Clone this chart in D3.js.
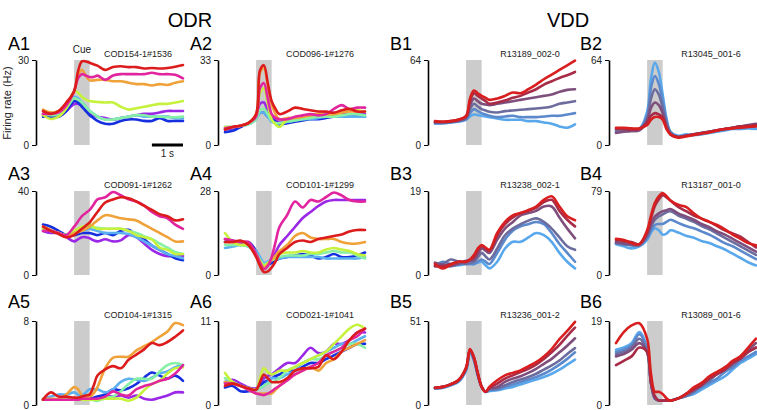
<!DOCTYPE html>
<html><head><meta charset="utf-8">
<script src="https://cdn.jsdelivr.net/npm/d3@7"></script>
<style>body{margin:0;background:#fff;} text{font-family:"Liberation Sans",Arial,sans-serif;}</style>
</head><body>
<script>
// time points (s, relative to cue onset)
const times = [-1,-0.75,-0.5,-0.25,0,0.125,0.25,0.375,0.5,0.625,0.75,1,1.25,1.5,1.75,2,2.25,2.5,2.75,3,3.25,3.5];
const odrColors = ["#dc1c1c","#e0259e","#f0a23a","#c6f23e","#86f0a4","#5cb0f2","#1630e0","#9a28e6"];
const vddColors = ["#5aa8ec","#5c88cc","#6c6c9e","#7e4e7c","#a82c48","#d81e1e"];
const panelNames = ["A1","A2","A3","A4","A5","A6","B1","B2","B3","B4","B5","B6"];
const unitLabels = ["COD154-1#1536","COD096-1#1276","COD091-1#1262","COD101-1#1299","COD104-1#1315","COD021-1#1041",
  "R13189_002-0","R13045_001-6","R13238_002-1","R13187_001-0","R13236_001-2","R13089_001-6"];
const yMax = [30,33,40,28,8,11,64,64,19,79,51,19];

// ODR series order: red, magenta, orange, yellow-green, aquamarine, light blue, blue, purple
const A1 = [
[12,11,12,15,19,26,29.5,29.5,29,28.5,28,26.5,27.5,27.8,27.5,27.5,27,27.2,27,27.2,27.6,28.2],
[11,11,11.5,14,19,23.5,25,24.5,24,24,24.5,23,24.5,25,25,25,25,25.5,25,25,24.8,23.5],
[12.5,11.5,12,14.5,19,24.5,26.5,24.5,22.8,22.8,23,23,22.5,22.5,22,21.5,21.5,21,21.5,21.2,22,22.5],
[10.5,9.2,10,13,19,18.5,17,16,15.5,15.3,15.2,15,15,13.5,12.5,13,13.5,14,14.5,14.5,15,15.5],
[11,10.5,11,13,16.5,16,15,13.5,12,11,10,9,9,9.5,10,10.5,10.5,10,10,9.8,9.8,10],
[11,10.5,11,13.5,17,16.5,15,13.5,12,11,10,9,9,9.5,10,10.5,10,10,10,10,9.5,9.5],
[10,10,10,12,15.5,15,13.5,12,10.5,9.5,8.5,7.5,7.5,8.5,9,9,8.5,8.5,9.5,8.5,8.5,8.5],
[10.5,10.5,10,12,14.5,14.5,14,13,11.5,10.5,10,9.5,9,9.5,10,10.5,11,11,11.5,12,12,12]];
const A2 = [
[6,7,7.5,8.5,12,29,31,24,17,14,12,13,14.5,14,13.5,13,13,12.5,13.5,14,13,13],
[6.5,7,7.5,8.5,11,22,24,18,12,10.5,10,10,11,11.5,12,11.5,12,14,15.5,14,14.5,14.5],
[6.5,7,7.5,8.5,12,28,30,23,16,12,10,10.5,10.5,11,11.5,12,12,12,12.5,13,13,13],
[7,7,7.5,8.5,11.5,20,22,16,10,8,7,10,10.5,11,11.5,12,12,12,13,14,13.5,13],
[7,7,7.5,8,10,13.5,14,12,9.5,8.5,8.5,9,9.5,10,10.5,11,11,11,11.5,12,12,11.5],
[7,7,7.5,8,10,12.5,12.5,11,9,8.5,8.5,9,9.5,10,10,10.5,11,11,11,11,11,11],
[5,5.5,7,8.5,10.5,12.5,12.5,11,10,9,8,8.5,9,9.5,10,10,10.5,11,11,11,11,11],
[6,6.5,7.5,8.5,11,16,16.5,13.5,11,9.5,9,9.5,10,11,11.5,12,12.5,12.5,12.5,12,12,12]];
const A3 = [
[23,21,19.5,18,19,20.5,22,23.5,25,27.5,30,34.5,36,37,36.5,35,33,31,29,28,26,26.5],
[21,21,20,19,23,25.5,28,29.5,31,33.5,36,37,39.5,38,36,35,33,30,28,27,24,22],
[23,21.5,20,18,20,20.5,21,22,23,24.5,26,28.5,28,27,26.5,26,24,22,20,18,16,16],
[22,21,20,19,21,22,23,23.5,24,23,22,22,22,22,21,19,18,17,13,12,10,10],
[22,21,20,19,21,21.5,22,22.5,23,22.5,22.5,22,22,22,21,20,18.5,17,15,13,11,10],
[22,21,20,19,20,20.5,21,21.5,22,21.5,21,20,20,20,19.5,18,16,14,12,10,9,8],
[24,23,21,19,19,19.5,20,20,20,19.5,19,20,19,21,21.5,19,17,14,12,10,8,7],
[21,20,20,18,16,17,18,18,17.5,16.5,16,17,16,16.5,19,18,15,12,10,9,9,9]];
const A4 = [
[11,11,11.5,10,6,3,1,1.2,2.5,4.5,7,9,11,11.5,11,12,12.5,13,13.5,14.5,15,15],
[12,11.5,11,11,7,4,2,3,6,11,16,20,24.5,22.5,25,24.5,26,27.5,26.5,25,24.5,24.5],
[11,11,11,10.5,7,4.5,2.5,3.5,5,6.5,8,10,13,14,12.5,12,12,12,11,10.5,10.5,11],
[14,11,10,10,7,4.5,3,4,5,6,7,7.5,7.5,8,7.5,7.5,8.5,9,8.5,8,7,6.5],
[10,10,10,9.5,7,5,3.5,4,5,5.5,6,6.5,6.5,6.5,7,7,7.5,8,7.5,7.5,6.5,5.5],
[9,9.5,10,9.5,8,6,4,4.5,5,5.3,5.5,6,6,6,6,6,5.5,5.5,5.5,5.5,5.5,6],
[11,11.5,10,11,8,5,3,3.5,4,4.8,5.5,6,6.5,7,6.5,5.5,6,7,6,6,6.5,7.5],
[12,11,10.5,10,7,4.5,3,3.5,5,7.5,10,13,16,19,21,23,24.5,25,25,25,25,25]];
const A5 = [
[0.5,1.2,0.8,0.8,0.7,0.7,0.8,0.9,1,1.8,2.8,3.4,3.7,3.5,4.3,4.8,5.3,5.9,5.7,6,6.5,7.1],
[0.5,0.5,0.5,0.5,0.5,0.5,0.6,0.6,0.6,0.6,0.6,0.8,1.3,1,0.9,1.5,1.8,2,2.3,2.5,3,3.8],
[0.6,0.6,0.6,1,1.7,1.5,0.9,0.8,0.8,1.1,1.7,3.5,4.5,4.6,4.6,5.2,5.6,6,6.5,7,7.8,7.6],
[0.5,0.5,0.5,0.5,0.5,0.5,0.5,0.5,0.5,0.5,0.5,0.6,0.6,0.6,0.4,0.7,1.4,2,2.3,3,3.5,3.6],
[0.5,0.5,0.6,0.6,0.5,0.5,0.5,0.5,0.5,0.45,0.4,0.7,0.8,1.3,2,2.5,2.5,2.5,3.2,3.8,4,3.8],
[0.6,0.8,1,1,1.2,1,0.9,1.2,1.5,1.5,1.5,1.2,1.5,2.2,2.5,2.4,2.3,2.6,3,3.2,3.6,3.8],
[0.5,0.5,0.5,0.5,0.5,0.5,0.5,0.5,0.6,0.7,0.8,1,1.5,1.4,1.6,2,2.6,3.1,2.8,2.5,2.8,2.3],
[0.5,0.5,0.5,0.5,0.5,0.5,0.5,0.5,0.5,0.5,0.5,0.9,0.8,0.9,0.7,0.9,0.6,0.5,0.7,0.9,1.2,1.2]];
const A6 = [
[2.5,2.8,2.5,2.2,2,3,4,3.5,3,3,3,3.5,4.5,4.8,4.8,5,6.5,6,7,8.5,9.5,10],
[2.8,2.8,2.5,2,1.5,1.4,1.3,1.5,1.8,2.2,2.5,3.2,4,4.5,5,5.5,6.5,7,7.5,8.5,9,10],
[3,2.8,2.5,2,1.5,1.5,1.5,1.5,1.5,2,2.5,3.5,4,4.5,5,4.5,5.5,6,7,7.5,8,8.5],
[4.2,3,2.5,2.2,2,3.5,4.8,4.3,4,4.2,4.5,4.5,5,5.5,6,6.5,7,8,9,10,10.5,10],
[3.5,3,2.5,2.2,2,2.2,2.5,2.8,3,3.2,3.5,4.5,5,5.5,6,6,6.5,7,7.5,8,8,7.5],
[3,3,2.5,2.2,2,2.2,2.5,3,3.5,3.5,3.5,4,4.5,5.5,6,6.5,7,7.5,8,8,8.5,9],
[2.3,2.5,1.8,1.8,2,2.5,3,3.2,3.5,3.8,4,4.5,4.5,5,5.5,5.5,6,6.5,7,7.5,8,8],
[3,3.3,2.8,2.3,2.2,2.8,3.5,3.8,4,4.4,4.8,5.5,5.5,6.5,7.5,6.8,7,8,8,8.5,9.5,9.5]];

// VDD series order: light blue -> red
const B1 = [
[16,16.5,17,17.5,19,21.5,23,22.5,22,21.5,21,20,19,19,19,18,18,17,16,14,13,15.5],
[16.5,16.5,17,18,19.5,24,27,25.5,24,23,22,21,21.5,22,21,21,21,21.5,22,22,23,24],
[17,17,17.5,18,20,27,31,29,27,26,25,24.5,25.5,26,26.5,27,27.5,28,29,31,32,33],
[17,17,17.5,18.5,21,30,35,33,31,30.5,30,31,32,33,34,35,36,37,38,40,41.5,42],
[17.5,17.5,18,19,21.5,33,39,37,35,33,31,32,33.5,35.5,37,39.5,42,45.5,48,50.5,52.5,55],
[18,17.5,18,19,22,35,41,39,37,35.5,34,35,37,39.5,39,42,45.5,49.5,53,56.5,60,63.5]];
const B2 = [
[12,12,11,12,25,50,62,55,38,20,10,7,8,7.5,8,9,10,11,12,12,12.5,12],
[11,11.5,11,12,22,43,52,46,33,18,10,6,7,8,9,10,11,12,12.5,13,13.5,14],
[10,10.5,10.5,11.5,20,35,42,38,28,16,9,6,7,7.5,9,10,11,12,13,14,14.5,15],
[9,10,10.5,11,18,28,32,30,24,14,8,6,7,8,9,10,11,12,13,14,15,16],
[12,12,11.5,12,17,22,24,23,21,13,8,6,7,8,9,10,11,12,13,14,14.5,15],
[13,13,12.5,12.5,15,19,21,21,19,12,8,5.5,6.5,7.5,8.5,9.5,11,12,12.5,13,13.5,14]];
const B3 = [
[2.2,2,2,2.2,2.5,2.5,2.5,2.8,3,2.2,1.5,3,6,7.5,7.5,8.5,9.5,9,7.5,5,3,1.5],
[2,3,2.5,2.5,2.5,2.5,2.5,3,3.5,3,2.5,5,8,10,11,11.5,12,11.5,9.5,7,5,3],
[2.5,2.5,3.5,3,2.5,2.8,3,4,5,4.2,3.5,6,9,10.5,11.5,12.3,12.8,12,10.5,8.5,6.5,5.7],
[2.8,2.3,2,2.5,3.2,3.3,3.5,4.8,6,5.5,5,8,10.5,12,13.5,14,14.5,15.5,15.5,13,10.5,8.3],
[2,2,2.5,3,3,3.5,4,5.5,6.5,6,5.5,9,11.5,13,14,14.5,15.2,16.5,17,14.5,12.5,11],
[2.5,1.5,2.3,3,3,3.5,4.5,6,6.8,6.2,5.7,9.5,12,13.5,14,14.7,15.5,17,17.8,15.5,13.3,12.4]];
const B4 = [
[29,27,25,27,33,40,44,42,38,39,42,40,37,35,32,30,27,24,20,16,12,9],
[30,29,28,28,35,42,47,48,48,50,52,49,46,44,41,38,34,30,27,23,19,15],
[30,29,28,28,36,45,52,55,57,59,60,56,53,50,46,43,39,35,31,27,23,19],
[31,30,29,29,38,48,55,58,60,61,62,58,55,52,48,45,41,38,34,30,26,22],
[33,32,31,29,40,53,65,71,75,73,70,64,60,56,53,50,46,42,39,36,31,26],
[34,33,30,29,42,56,68,74,77,74,70,66,64,58,53,50,47,43,38,34,30,28]];
const B5 = [
[10,10.5,12,14,21,32,27,18,11,8,8.5,9,10,11,12.5,14,15.5,17,19,21.5,24.5,27.5],
[10,10.5,12,14.5,21.5,32.5,27.5,18,11,8,9,9.5,11,12.5,14,15.5,17,19,21.5,24.5,28,32],
[10,11,12.5,14.5,22,33,28,18.5,11,8,9.5,10,12,14,15.5,17,19,21.5,24,27,31,34.5],
[10.5,11,12.5,15,22,33.5,28.5,19,11,8,10,11,14,16,17.5,19.5,22,25,28,32,36,40.5],
[10.5,11,12.5,15,22.5,33.5,29,19,11,8,10.5,13,16,18,20,22,24.5,28,32,36.5,42,47],
[10.5,11,12.5,15,23,34,29,19.5,11,8,11,15,18,19.5,21,23.5,26,29.5,34,40,45,50.5]];
const B6 = [
[12.5,13,14,16.5,13,5,1.5,1,1,1,1,1.5,2,2.5,3.5,4.5,5.5,6.5,8,9.5,10.5,11.5],
[12,12.5,13.5,16,12.5,5,1.5,1,1,1,1,1.5,2,3,4,5,6,7.5,8.5,10,11,12],
[11.5,12,13,15,12,5,1.5,1,1,1,1,1.5,2,3,4.5,5.5,7,8,9,10.5,12,13],
[11,11.5,12.5,14,12,5,1.5,1,1,1,1,1.5,2.5,3.5,4.5,6,7,8.5,9.5,11,12.5,14],
[9,10,11,13,12,5,2,1,1,1,1,1.5,2.5,3.5,4.5,6,7,8,9.5,10.5,12,13],
[14,16.5,18,18.5,15,7,3,3,2.5,1.5,1,1.5,2.5,4,5,6.5,7.5,8.5,10,11,13,15]];

const panelData = [A1,A2,A3,A4,A5,A6,B1,B2,B3,B4,B5,B6];

// ---------- layout ----------
const W = 757, H = 410;
const svg = d3.select("body").append("svg").attr("width", W).attr("height", H);
svg.append("rect").attr("width", W).attr("height", H).attr("fill", "#fff");

const axisX = [36, 218, 428, 609];
const labelX = [8, 190, 390, 580];
const rowTop = [60, 191, 321];
const rowBot = [145, 275, 405];
const labelY = [50, 180, 308];

// titles
svg.append("text").attr("x", 190).attr("y", 27).attr("text-anchor", "middle")
  .attr("font-size", 20).text("ODR");
svg.append("text").attr("x", 568).attr("y", 27).attr("text-anchor", "middle")
  .attr("font-size", 20).text("VDD");

// y axis label
svg.append("text").attr("transform", "translate(11,103) rotate(-90)")
  .attr("text-anchor", "middle").attr("font-size", 11).attr("fill", "#222").text("Firing rate (Hz)");

panelData.forEach((series, i) => {
  const isB = i >= 6;
  const k = isB ? i - 6 : i;
  const row = Math.floor(k / 2);
  const col = (k % 2) + (isB ? 2 : 0);
  const ax = axisX[col];
  const top = rowTop[row], bot = rowBot[row];
  const x = d3.scaleLinear().domain([-1, 3.5]).range([ax + 7, ax + 147]);
  const y = d3.scaleLinear().domain([0, yMax[i]]).range([bot, top]);
  const g = svg.append("g");

  // cue period
  g.append("rect").attr("x", x(0)).attr("y", top).attr("width", x(0.5) - x(0))
    .attr("height", bot - top).attr("fill", "#cccccc");

  // axis
  const axis = d3.axisLeft(y).tickValues([0, yMax[i]]).tickSize(4).tickSizeOuter(0)
    .tickPadding(3).tickFormat(d3.format("d"));
  const ag = g.append("g").attr("transform", `translate(${ax},0)`).call(axis);
  ag.select(".domain").attr("stroke", "#000").attr("stroke-width", 1.6);
  ag.selectAll(".tick line").attr("stroke", "#000").attr("stroke-width", 1);
  ag.selectAll(".tick text").attr("font-size", 10).attr("font-family", "Liberation Sans, Arial, sans-serif").attr("fill", "#222");

  // lines
  const colors = isB ? vddColors : odrColors;
  const line = d3.line().x((d, j) => x(times[j])).y(d => y(d)).curve(d3.curveCatmullRom.alpha(0.5));
  const order = isB ? d3.range(series.length) : d3.range(series.length).reverse();
  order.forEach(s => {
    g.append("path").datum(series[s]).attr("d", line).attr("fill", "none")
      .attr("stroke", colors[s]).attr("stroke-width", 2.6)
      .attr("stroke-linejoin", "round").attr("stroke-linecap", "round");
  });

  // labels
  svg.append("text").attr("x", labelX[col]).attr("y", labelY[row]).attr("font-size", 18)
    .text(panelNames[i]);
  svg.append("text").attr("x", ax + 102).attr("y", top - 3).attr("text-anchor", "middle")
    .attr("font-size", 9).attr("fill", "#222").text(unitLabels[i]);

  if (i === 0) {
    svg.append("text").attr("x", x(0.25)).attr("y", 53).attr("text-anchor", "middle")
      .attr("font-size", 10).attr("fill", "#222").text("Cue");
    svg.append("line").attr("x1", x(2.5)).attr("x2", x(3.5)).attr("y1", bot).attr("y2", bot)
      .attr("stroke", "#000").attr("stroke-width", 3);
    svg.append("text").attr("x", x(3)).attr("y", bot + 12).attr("text-anchor", "middle")
      .attr("font-size", 10).attr("fill", "#222").text("1 s");
  }
});
</script>
</body></html>
